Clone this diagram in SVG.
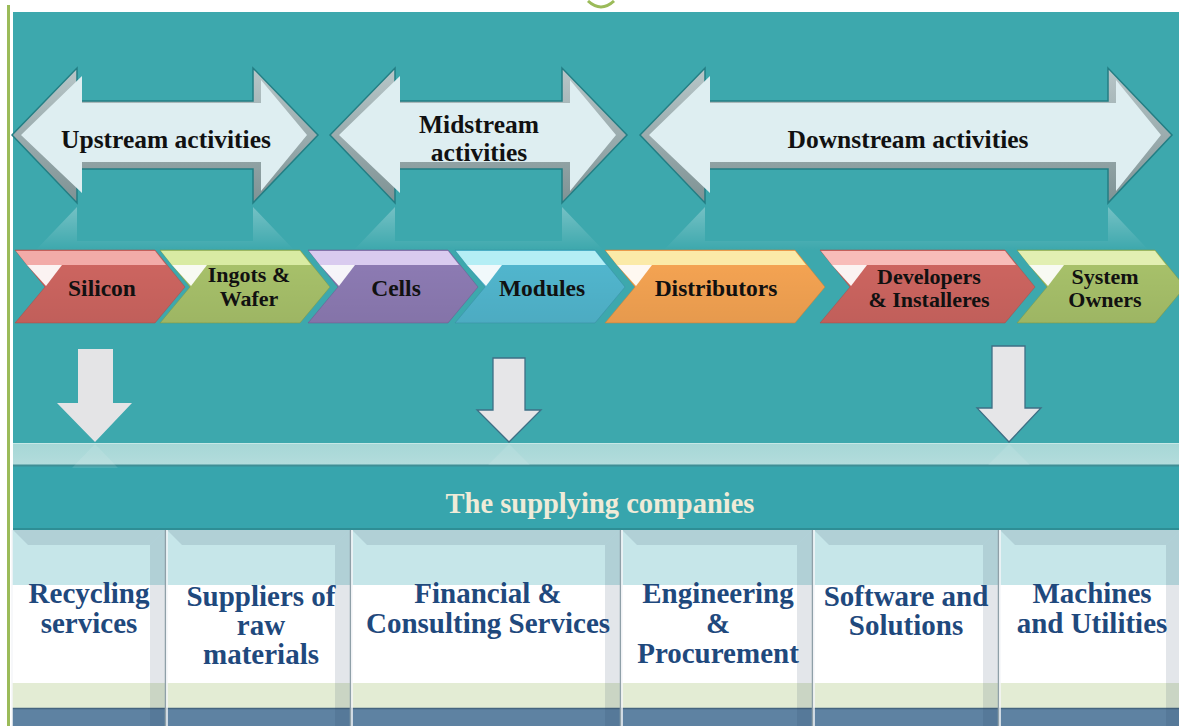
<svg xmlns="http://www.w3.org/2000/svg" width="1179" height="726" viewBox="0 0 1179 726">
<defs>
<style>
.t{font-family:"Liberation Serif","Times New Roman",serif;font-weight:bold;text-anchor:middle}
.ah{font-size:25.5px;fill:#111}
.ch{font-size:23.5px;fill:#111}
.ch2{font-size:22px;fill:#111}
.col{font-size:29px;fill:#1F497D}
.outer{stroke:#237E84;stroke-width:1.5}
.inner{fill:#DEEEF1}
.dn{fill:#E4E4E6}
.dno{fill:#E6E6E8;stroke:#3E6F85;stroke-width:1.3}
.bev{fill:#28405a;fill-opacity:0.13}
.wh{fill:#ffffff;fill-opacity:0.92}
</style>
<linearGradient id="gOut" x1="0" y1="0" x2="0" y2="1">
<stop offset="0" stop-color="#B8C6C8"/><stop offset="1" stop-color="#7E9294"/>
</linearGradient>
<linearGradient id="gRefl" gradientUnits="userSpaceOnUse" x1="0" y1="205" x2="0" y2="250">
<stop offset="0" stop-color="#ffffff" stop-opacity="0.3"/><stop offset="1" stop-color="#ffffff" stop-opacity="0"/>
</linearGradient>
<linearGradient id="gBand" x1="0" y1="0" x2="0" y2="1">
<stop offset="0" stop-color="#A6D7D6"/><stop offset="1" stop-color="#B3DCDC"/>
</linearGradient>
<linearGradient id="gShade" x1="0" y1="0" x2="0" y2="1">
<stop offset="0" stop-color="#000" stop-opacity="0"/><stop offset="1" stop-color="#000" stop-opacity="0.07"/>
</linearGradient>
</defs>

<!-- page -->
<rect x="0" y="0" width="1179" height="726" fill="#ffffff"/>
<line x1="8.5" y1="5" x2="8.5" y2="726" stroke="#9BBB59" stroke-width="3"/>
<path d="M588,1 Q601,13 614,1" fill="none" stroke="#9BBB59" stroke-width="3"/>
<rect x="13" y="12" width="1166" height="431" fill="#3DA8AD"/>

<!-- double arrows -->
<g id="upstream">
<polygon points="12,135 77,68 77,101 253,101 253,68 318,135 253,203 253,169 77,169 77,203" fill="url(#gOut)" class="outer"/>
<polygon class="inner" points="21,135 82,76 82,103 261,103 261,80 307,135 261,191 261,162 82,162 82,193"/>
<polygon points="12,275 77,342 77,309 253,309 253,342 318,275 253,207 253,241 77,241 77,207" fill="url(#gRefl)"/>
<text class="t ah" x="166" y="148">Upstream activities</text>
</g>
<g id="midstream">
<polygon points="330,135 395,68 395,101 562,101 562,68 627,135 562,203 562,169 395,169 395,203" fill="url(#gOut)" class="outer"/>
<polygon class="inner" points="339,135 400,76 400,103 570,103 570,80 616,135 570,191 570,162 400,162 400,193"/>
<polygon points="330,275 395,342 395,309 562,309 562,342 627,275 562,207 562,241 395,241 395,207" fill="url(#gRefl)"/>
<text class="t ah" x="479" y="133">Midstream</text>
<text class="t ah" x="479" y="161">activities</text>
</g>
<g id="downstream">
<polygon points="640,135 705,68 705,101 1108,101 1108,68 1172,135 1108,203 1108,169 705,169 705,203" fill="url(#gOut)" class="outer"/>
<polygon class="inner" points="649,135 710,76 710,103 1116,103 1116,80 1161,135 1116,191 1116,162 710,162 710,193"/>
<polygon points="640,275 705,342 705,309 1108,309 1108,342 1172,275 1108,207 1108,241 705,241 705,207" fill="url(#gRefl)"/>
<text class="t ah" x="908" y="148">Downstream activities</text>
</g>

<!-- chevrons -->
<g id="silicon">
<polygon points="15,250 155,250 185,287 155,323 15,323 45,287" fill="#CF6661" stroke="#A9504C" stroke-opacity="0.5"/>
<polygon points="15,250 155,250 185,287 155,323 15,323 45,287" fill="url(#gShade)"/>
<polygon points="16,251 155,251 166,265 27,265" fill="#F2ABA8"/>
<polygon class="wh" points="27,265 62,265 46,286"/>
<text class="t ch" x="102" y="296">Silicon</text>
</g>
<g id="ingots">
<polygon points="160,250 300,250 330,287 300,323 160,323 190,287" fill="#A9C36B" stroke="#7E9A48" stroke-opacity="0.5"/>
<polygon points="160,250 300,250 330,287 300,323 160,323 190,287" fill="url(#gShade)"/>
<polygon points="161,251 300,251 311,265 172,265" fill="#D9EBA3"/>
<polygon class="wh" points="172,265 207,265 191,286"/>
<text class="t ch2" x="249" y="282">Ingots &amp;</text>
<text class="t ch2" x="249" y="306">Wafer</text>
</g>
<g id="cells">
<polygon points="308,250 448,250 478,287 448,323 308,323 338,287" fill="#8E7CB5" stroke="#6C5C92" stroke-opacity="0.5"/>
<polygon points="308,250 448,250 478,287 448,323 308,323 338,287" fill="url(#gShade)"/>
<polygon points="309,251 448,251 459,265 320,265" fill="#D9CBEF"/>
<polygon class="wh" points="320,265 355,265 339,286"/>
<text class="t ch" x="396" y="296">Cells</text>
</g>
<g id="modules">
<polygon points="455,250 595,250 625,287 595,323 455,323 485,287" fill="#52B8D0" stroke="#3A90A6" stroke-opacity="0.5"/>
<polygon points="455,250 595,250 625,287 595,323 455,323 485,287" fill="url(#gShade)"/>
<polygon points="456,251 595,251 606,265 467,265" fill="#B4EEF5"/>
<polygon class="wh" points="467,265 502,265 486,286"/>
<text class="t ch" x="542" y="296">Modules</text>
</g>
<g id="distributors">
<polygon points="605,250 795,250 825,287 795,323 605,323 635,287" fill="#F7A553" stroke="#C98238" stroke-opacity="0.5"/>
<polygon points="605,250 795,250 825,287 795,323 605,323 635,287" fill="url(#gShade)"/>
<polygon points="606,251 795,251 806,265 617,265" fill="#FBEAA8"/>
<polygon class="wh" points="617,265 652,265 636,286"/>
<text class="t ch" x="716" y="296">Distributors</text>
</g>
<g id="developers">
<polygon points="820,250 1005,250 1035,287 1005,323 820,323 850,287" fill="#CF6661" stroke="#A9504C" stroke-opacity="0.5"/>
<polygon points="820,250 1005,250 1035,287 1005,323 820,323 850,287" fill="url(#gShade)"/>
<polygon points="821,251 1005,251 1016,265 832,265" fill="#F8BCB9"/>
<polygon class="wh" points="832,265 867,265 851,286"/>
<text class="t ch2" x="929" y="284">Developers</text>
<text class="t ch2" x="929" y="307">&amp; Installeres</text>
</g>
<g id="owners">
<polygon points="1017,250 1155,250 1185,287 1155,323 1017,323 1047,287" fill="#A9C36B" stroke="#7E9A48" stroke-opacity="0.5"/>
<polygon points="1017,250 1155,250 1185,287 1155,323 1017,323 1047,287" fill="url(#gShade)"/>
<polygon points="1018,251 1155,251 1166,265 1029,265" fill="#E2EFB2"/>
<polygon class="wh" points="1029,265 1064,265 1048,286"/>
<text class="t ch2" x="1105" y="284">System</text>
<text class="t ch2" x="1105" y="307">Owners</text>
</g>

<!-- supplying band -->
<rect x="13" y="443" width="1166" height="22" fill="url(#gBand)"/>
<line x1="13" y1="443.5" x2="1179" y2="443.5" stroke="#C6E8E6" stroke-width="1"/>
<rect x="13" y="465" width="1166" height="65" fill="#37A5AD"/>
<line x1="13" y1="465.5" x2="1179" y2="465.5" stroke="#3F8E95" stroke-width="2"/>
<line x1="13" y1="529" x2="1179" y2="529" stroke="#2E8E95" stroke-width="2"/>
<g id="connectors">
<polygon points="78,349 113,349 113,403 132,403 95,442 57,403 78,403" class="dn"/>
<polygon points="493,358 525,358 525,410 541,410 509,442 477,410 493,410" class="dno"/>
<polygon points="992,346 1025,346 1025,408 1041,408 1009,442 977,408 992,408" class="dno"/>
<polygon points="95,444 72,468 118,468" fill="#ffffff" fill-opacity="0.1"/>
<polygon points="509,444 488,465 530,465" fill="#ffffff" fill-opacity="0.1"/>
<polygon points="1009,444 988,465 1030,465" fill="#ffffff" fill-opacity="0.1"/>
</g>
<text class="t" x="600" y="513" style="font-size:28.5px;fill:#EFEBD8">The supplying companies</text>

<!-- bottom bands -->
<rect x="12" y="530" width="1167" height="55" fill="#C6E6E9"/>
<rect x="12" y="585" width="1167" height="98" fill="#ffffff"/>
<rect x="12" y="683" width="1167" height="25" fill="#E3ECD4"/>
<rect x="12" y="708" width="1167" height="18" fill="#5E82A2"/>
<line x1="12" y1="708.5" x2="1179" y2="708.5" stroke="#45657F" stroke-width="1.5"/>

<g id="col1">
<polygon class="bev" points="13,530 165,530 150,545 28,545"/>
<polygon class="bev" points="165,530 165,726 150,726 150,545"/>
<text class="t col" x="89" y="603">Recycling</text>
<text class="t col" x="89" y="633">services</text>
</g>
<g id="col2">
<polygon class="bev" points="167,530 350,530 335,545 182,545"/>
<polygon class="bev" points="350,530 350,726 335,726 335,545"/>
<text class="t col" x="261" y="606">Suppliers of</text>
<text class="t col" x="261" y="635">raw</text>
<text class="t col" x="261" y="664">materials</text>
</g>
<g id="col3">
<polygon class="bev" points="352,530 620,530 605,545 367,545"/>
<polygon class="bev" points="620,530 620,726 605,726 605,545"/>
<text class="t col" x="488" y="603">Financial &amp;</text>
<text class="t col" x="488" y="633">Consulting Services</text>
</g>
<g id="col4">
<polygon class="bev" points="622,530 812,530 797,545 637,545"/>
<polygon class="bev" points="812,530 812,726 797,726 797,545"/>
<text class="t col" x="718" y="603">Engineering</text>
<text class="t col" x="718" y="633">&amp;</text>
<text class="t col" x="718" y="663">Procurement</text>
</g>
<g id="col5">
<polygon class="bev" points="814,530 998,530 983,545 829,545"/>
<polygon class="bev" points="998,530 998,726 983,726 983,545"/>
<text class="t col" x="906" y="606">Software and</text>
<text class="t col" x="906" y="635">Solutions</text>
</g>
<g id="col6">
<polygon class="bev" points="1000,530 1181,530 1166,545 1015,545"/>
<polygon class="bev" points="1181,530 1181,726 1166,726 1166,545"/>
<text class="t col" x="1092" y="603">Machines</text>
<text class="t col" x="1092" y="633">and Utilities</text>
</g>
<g id="dividers" stroke-width="1.5">
<line x1="12" y1="530" x2="12" y2="726" stroke="#F4F6F8"/>
<line x1="165.5" y1="530" x2="165.5" y2="726" stroke="#8FA0A8"/>
<line x1="167" y1="530" x2="167" y2="726" stroke="#F4F6F8"/>
<line x1="350.5" y1="530" x2="350.5" y2="726" stroke="#8FA0A8"/>
<line x1="352" y1="530" x2="352" y2="726" stroke="#F4F6F8"/>
<line x1="620.5" y1="530" x2="620.5" y2="726" stroke="#8FA0A8"/>
<line x1="622" y1="530" x2="622" y2="726" stroke="#F4F6F8"/>
<line x1="812.5" y1="530" x2="812.5" y2="726" stroke="#8FA0A8"/>
<line x1="814" y1="530" x2="814" y2="726" stroke="#F4F6F8"/>
<line x1="998.5" y1="530" x2="998.5" y2="726" stroke="#8FA0A8"/>
<line x1="1000" y1="530" x2="1000" y2="726" stroke="#F4F6F8"/>
</g>
</svg>
